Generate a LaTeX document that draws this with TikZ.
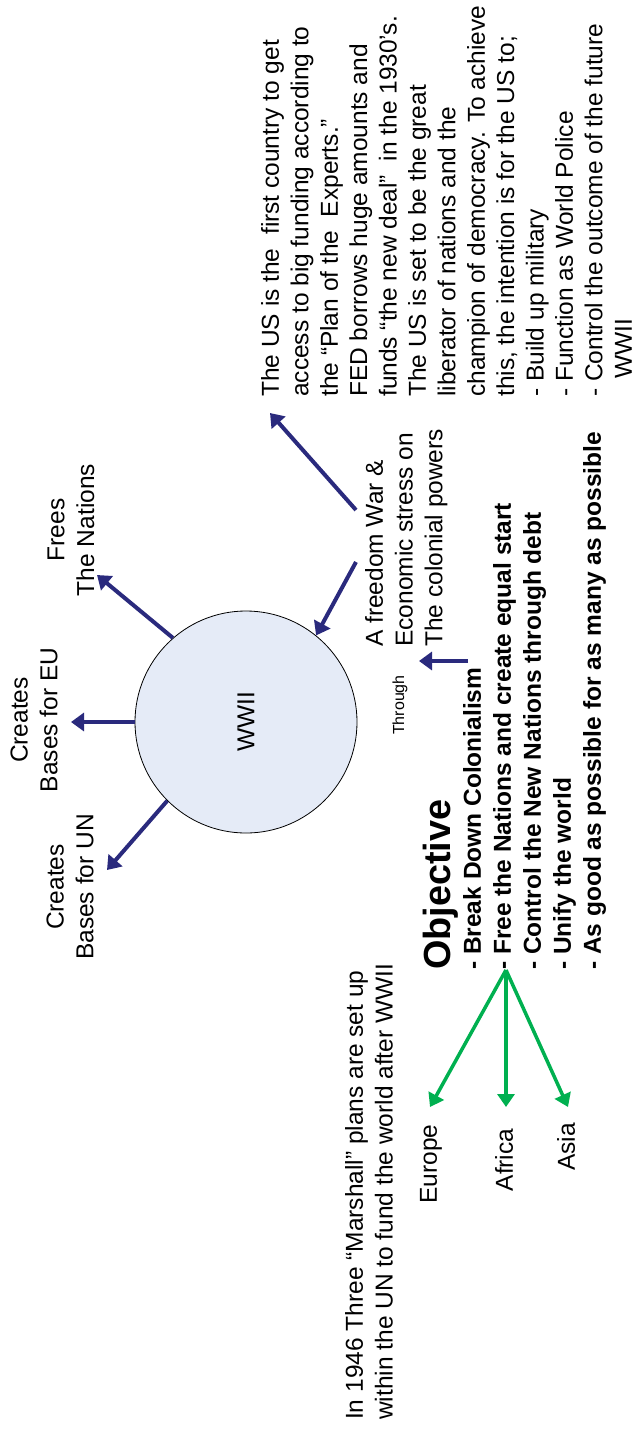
\documentclass[tikz,border=0pt]{standalone}
\usepackage{fontspec}
\setmainfont{Liberation Sans}
\usetikzlibrary{arrows.meta}
\definecolor{navy}{RGB}{42,42,125}
\definecolor{ggreen}{RGB}{0,176,80}
\definecolor{circfill}{RGB}{229,235,247}
\begin{document}
\begin{tikzpicture}[x=1pt,y=1pt,
  txt/.style={rotate=90, inner sep=0pt, font=\fontsize{24.5}{29.75}\selectfont},
  ltxt/.style={txt, align=left, anchor=north west},
  ctxt/.style={txt, align=center},
  navyarrow/.style={draw=navy, line width=4pt, -{Triangle[length=13pt,width=18pt]}},
  greenarrow/.style={draw=ggreen, line width=3.5pt, -{Triangle[length=13pt,width=17pt]}},
]
\useasboundingbox (0,0) rectangle (639,-1436);

% central circle
\node[circle, draw=black, line width=0.8pt, fill=circfill, minimum size=222pt,
      inner sep=0pt, rotate=90, font=\fontsize{24.5}{30}\selectfont] (wwii) at (246,-722) {WWII};

% text blocks
\node[ltxt, font=\fontsize{24.5}{29.4}\selectfont] (us) at (261,-397) {The US is the~ first country to get\\access to big funding according to\\the “Plan of the~ Experts.”\\FED borrows huge amounts and\\funds “the new deal”~ in the 1930’s.\\The US is set to be the great\\liberator of nations and the\\champion of democracy. To achieve\\this, the intention is for the US to;\\- Build up military\\- Function as World Police\\- Control the outcome of the future\\\hspace*{18pt}WWII};
\node[ltxt] (freedom) at (365,-647) {A freedom War \&\\Economic stress on\\The colonial powers};
\node[txt, font=\fontsize{16}{19}\selectfont] (through) at (400,-705) {Through};
\node[ctxt] (frees) at (71,-530) {Frees\\The Nations};
\node[ctxt] (beu) at (34,-720) {Creates\\Bases for EU};
\node[ctxt] (bun) at (70,-887) {Creates\\Bases for UN};
\node[ltxt, font=\fontsize{37.8}{45}\bfseries] (objt) at (423,-970) {Objective};
\node[ltxt, font=\fontsize{24.5}{30}\bfseries] (objl) at (463,-970) {- Break Down Colonialism\\- Free the Nations and create equal start\\- Control the New Nations through debt\\- Unify the world\\- As good as possible for as many as possible};
\node[ltxt] (marshall) at (345,-1420) {In 1946 Three “Marshall” plans are set up\\within the UN to fund the world after WWII};
\node[txt] (europe) at (431,-1164) {Europe};
\node[txt] (africa) at (504,-1160) {Africa};
\node[txt] (asia) at (566,-1147) {Asia};

% connector end points
\coordinate (fre) at (97,-575);
\coordinate (eut) at (71,-722);
\coordinate (unt) at (107,-870);
\coordinate (fw1) at (356,-562);
\coordinate (fw2) at (356,-510);
\coordinate (ust) at (270,-413);
\coordinate (thr1) at (468,-661);
\coordinate (thr2) at (419,-661);
\coordinate (gsrc) at (506,-970);
\coordinate (get) at (430,-1107);
\coordinate (gat) at (506,-1107);
\coordinate (gas) at (568,-1107);

% navy arrows
\draw[navyarrow] (wwii.41) -- (fre);
\draw[navyarrow] (wwii.90) -- (eut);
\draw[navyarrow] (wwii.135) -- (unt);
\draw[navyarrow] (fw1) -- (wwii.-39);
\draw[navyarrow] (fw2) -- (ust);
\draw[navyarrow] (thr1) -- (thr2);

% green arrows
\draw[greenarrow] (gsrc) -- (get);
\draw[greenarrow] (gsrc) -- (gat);
\draw[greenarrow] (gsrc) -- (gas);
\end{tikzpicture}
\end{document}
